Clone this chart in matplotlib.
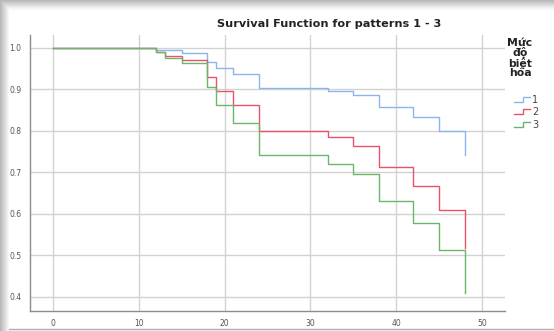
import numpy as np
import matplotlib.pyplot as plt
from matplotlib.patches import Rectangle
from matplotlib.lines import Line2D
from matplotlib.legend_handler import HandlerBase

# %% data
t1 = [0, 12, 15, 18, 19, 21, 24, 32, 35, 38, 42, 45, 48]
s1 = [1.0, 0.995, 0.988, 0.967, 0.952, 0.936, 0.904, 0.897, 0.887, 0.857, 0.833, 0.799, 0.742]
t2 = [0, 12, 13, 15, 18, 19, 21, 24, 32, 35, 38, 42, 45, 48]
s2 = [1.0, 0.991, 0.981, 0.971, 0.930, 0.896, 0.862, 0.800, 0.786, 0.764, 0.712, 0.667, 0.609, 0.517]
t3 = [0, 12, 13, 15, 18, 19, 21, 24, 32, 35, 38, 42, 45, 48]
s3 = [1.0, 0.989, 0.975, 0.963, 0.905, 0.863, 0.819, 0.741, 0.720, 0.697, 0.630, 0.579, 0.512, 0.409]

groups = ["1", "2", "3"]
colors = ["#8ab5ee", "#e8536b", "#6cb66c"]
xticks = [0, 10, 20, 30, 40, 50]
yticks = [0.4, 0.5, 0.6, 0.7, 0.8, 0.9, 1.0]


class StepHandler(HandlerBase):
    # little step glyph like the SPSS legend
    def create_artists(self, legend, orig_handle, xd, yd, w, h, fontsize, trans):
        xs = [xd, xd + w * 0.55, xd + w * 0.55, xd + w]
        ys = [yd + h * 0.15, yd + h * 0.15, yd + h * 0.85, yd + h * 0.85]
        ln = Line2D(xs, ys, color=orig_handle.get_color(), lw=1.0, transform=trans)
        return [ln]


# %%
W, H = 554, 331
fig = plt.figure(figsize=(5.54, 3.31), dpi=100)
fig.patch.set_facecolor("white")

# screenshot shadow round the chart
for i, g in enumerate(np.linspace(0.72, 0.97, 9)):
    fig.add_artist(Rectangle((i / W, 0), 1, 1 - i / H, transform=fig.transFigure,
                             facecolor=str(g), edgecolor="none", zorder=-3 + i * 0.01))
fig.add_artist(Rectangle((9 / W, 2 / H), 1, 1 - 12 / H, transform=fig.transFigure,
                         facecolor="white", edgecolor="none", zorder=-2))
fig.add_artist(Line2D([9 / W, 1], [2.5 / H, 2.5 / H], transform=fig.transFigure,
                      color="#b0b0b0", lw=1.0, zorder=-1))

ax = fig.add_axes([30 / W, 20 / H, 475 / W, 276 / H])
ax.set_facecolor("white")

lines = []
for t, s, c in zip([t1, t2, t3], [s1, s2, s3], colors):
    ln, = ax.step(t, s, where="post", color=c, lw=1.0)
    lines.append(ln)

ax.set_xlim(-2.7, 52.7)
ax.set_ylim(0.366, 1.031)
ax.set_xticks(xticks)
ax.set_yticks(yticks)
ax.set_xticklabels([str(v) for v in xticks])
ax.set_yticklabels([f"{v:.1f}" for v in yticks])
ax.tick_params(length=0, labelsize=5.5, labelcolor="#555555", pad=6)
ax.grid(True, color="#d2d2d2", lw=1.0)
ax.set_axisbelow(True)
for sp in ["top", "right"]:
    ax.spines[sp].set_visible(False)
for sp in ["left", "bottom"]:
    ax.spines[sp].set_color("#8c8c8c")
    ax.spines[sp].set_linewidth(1.0)

fig.text(329 / W, 1 - 24 / H, "Survival Function for patterns 1 - 3",
         ha="center", va="center", fontsize=8.1, fontweight="bold", color="#222222")

# legend title and entries
fig.text(520 / W, 1 - 58 / H, "Mức\nđộ\nbiệt\nhóa", ha="center", va="center",
         fontsize=7.8, fontweight="bold", linespacing=0.95, color="#222222")
leg = fig.legend(lines, groups, handler_map={Line2D: StepHandler()},
                 loc="upper left", bbox_to_anchor=(507 / W, 1 - 88 / H), frameon=False,
                 fontsize=7, handlelength=1.7, handletextpad=0.2,
                 labelspacing=0.25, borderpad=0.2)
for txt in leg.get_texts():
    txt.set_color("#444444")

fig.savefig("out.png", dpi=100)
